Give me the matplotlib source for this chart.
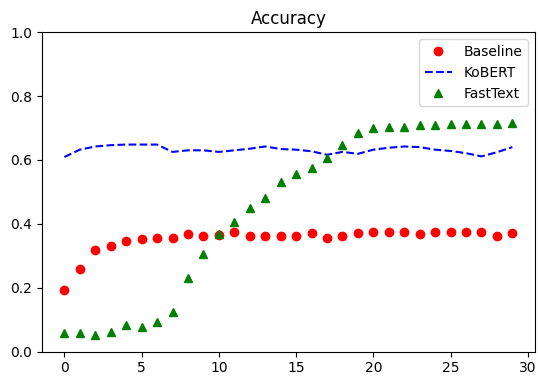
import matplotlib
matplotlib.use("Agg")
import matplotlib.pyplot as plt

epochs = list(range(30))

baseline = [0.192, 0.257, 0.318, 0.330, 0.346, 0.352, 0.357, 0.357, 0.367, 0.362,
            0.365, 0.375, 0.362, 0.362, 0.362, 0.362, 0.370, 0.357, 0.362, 0.370,
            0.374, 0.374, 0.374, 0.367, 0.374, 0.374, 0.374, 0.374, 0.363, 0.370]

kobert = [0.609, 0.632, 0.642, 0.646, 0.648, 0.648, 0.648, 0.625, 0.630, 0.630,
          0.625, 0.630, 0.635, 0.642, 0.634, 0.632, 0.627, 0.616, 0.625, 0.619,
          0.632, 0.638, 0.642, 0.640, 0.632, 0.628, 0.621, 0.611, 0.624, 0.640]

fasttext = [0.058, 0.058, 0.053, 0.062, 0.082, 0.077, 0.094, 0.124, 0.229, 0.305,
            0.367, 0.407, 0.449, 0.480, 0.532, 0.557, 0.574, 0.606, 0.648, 0.685,
            0.700, 0.703, 0.703, 0.708, 0.708, 0.713, 0.713, 0.713, 0.713, 0.716]

fig = plt.figure(figsize=(5.38, 3.78), dpi=100)
ax = fig.add_axes([0.078, 0.070, 0.916, 0.845])

ax.plot(epochs, baseline, "ro", label="Baseline")
ax.plot(epochs, kobert, "b--", label="KoBERT")
ax.plot(epochs, fasttext, "g^", label="FastText")

ax.set_ylim(0.0, 1.0)
ax.set_title("Accuracy")
ax.legend(loc="upper right")

fig.savefig("out.png", dpi=100)
